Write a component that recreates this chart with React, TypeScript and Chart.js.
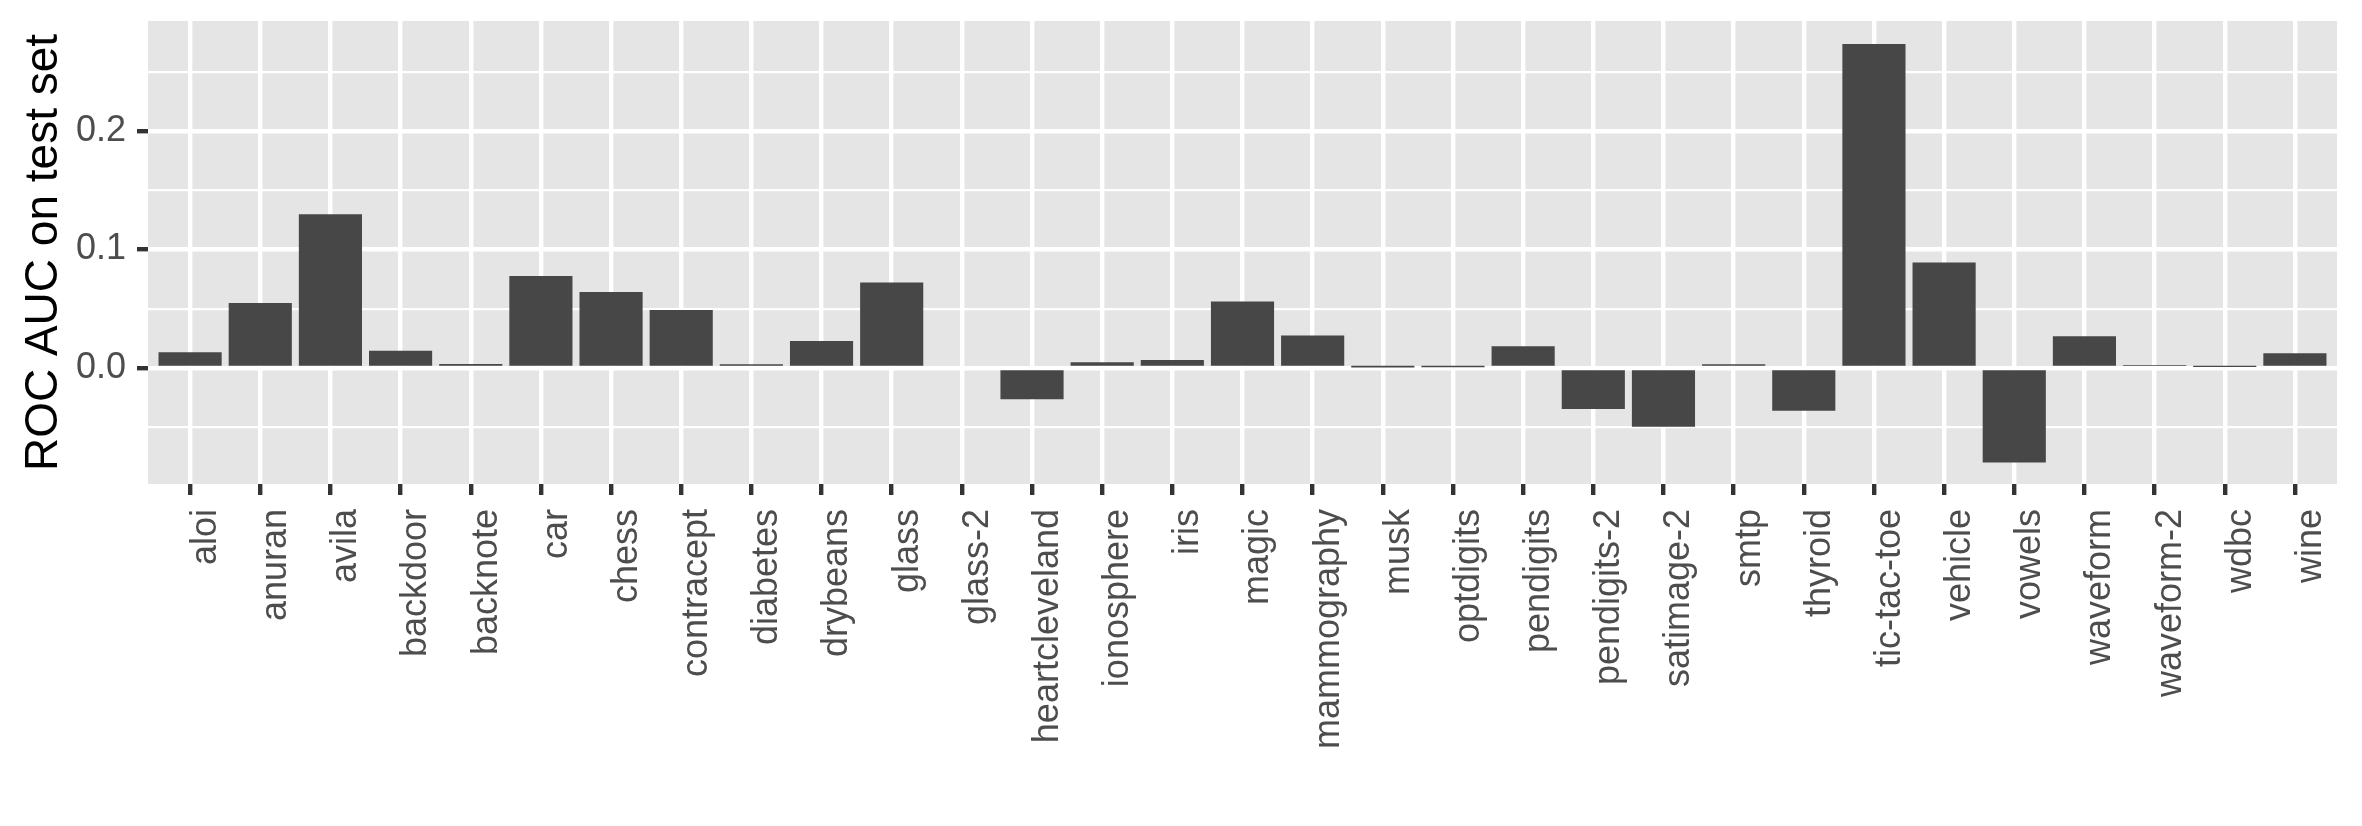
import React, { useEffect, useRef } from 'react';
import { Chart, registerables } from 'chart.js';

Chart.register(...registerables);

const categories = [
  'aloi', 'anuran', 'avila', 'backdoor', 'backnote', 'car', 'chess', 'contracept',
  'diabetes', 'drybeans', 'glass', 'glass-2', 'heartcleveland', 'ionosphere', 'iris',
  'magic', 'mammography', 'musk', 'optdigits', 'pendigits', 'pendigits-2', 'satimage-2',
  'smtp', 'thyroid', 'tic-tac-toe', 'vehicle', 'vowels', 'waveform', 'waveform-2', 'wdbc', 'wine',
];

const rocAucDiff = [
  0.0132, 0.0549, 0.1297, 0.0146, 0.0034, 0.0776, 0.0641, 0.049,
  0.0031, 0.0228, 0.0722, 0.0, -0.0264, 0.0048, 0.0067,
  0.0562, 0.0275, 0.0003, 0.0006, 0.0184, -0.0346, -0.0497,
  0.0031, -0.0362, 0.2736, 0.089, -0.0798, 0.0267, 0.0024, 0.0008, 0.0124,
];

const yTickValues = [-0.05, 0, 0.05, 0.1, 0.15, 0.2, 0.25];
const yMajorTicks = [0, 0.1, 0.2];
const yMin = -0.098;
const yMax = 0.293;

const FONT = 'Liberation Sans, Arial, Helvetica, sans-serif';

export default function App() {
  const ref = useRef<HTMLCanvasElement>(null);

  useEffect(() => {
    document.body.style.margin = '0';
    const canvas = ref.current;
    if (!canvas) return;

    const panelBg = {
      id: 'panelBg',
      beforeDraw(chart: any) {
        const { ctx, chartArea: a } = chart;
        ctx.save();
        ctx.fillStyle = '#E5E5E5';
        ctx.fillRect(a.left, a.top, a.right - a.left, a.bottom - a.top);
        ctx.restore();
      },
    };

    const chart = new Chart(canvas, {
      type: 'bar',
      data: {
        datasets: [
          {
            data: rocAucDiff.map((v, i) => ({ x: i, y: v })),
            backgroundColor: '#474747',
            borderWidth: 0,
            barPercentage: 0.9,
            categoryPercentage: 1,
          },
        ],
      },
      options: {
        animation: false,
        responsive: false,
        devicePixelRatio: 1,
        layout: { padding: { top: 21, right: 25, left: 0, bottom: 0 } },
        plugins: {
          legend: { display: false },
          tooltip: { enabled: false },
        },
        scales: {
          x: {
            type: 'linear',
            min: -0.6,
            max: categories.length - 0.4,
            offset: false,
            afterBuildTicks: (s: any) => {
              s.ticks = categories.map((_, i) => ({ value: i }));
            },
            afterFit: (s: any) => {
              s.height = 342;
              s.paddingLeft = 0;
              s.paddingRight = 0;
            },
            border: { display: false },
            grid: {
              offset: false,
              color: '#FFFFFF',
              lineWidth: 4.4,
              tickColor: '#333333',
              tickWidth: 4.4,
              tickLength: 11,
              drawTicks: true,
            },
            ticks: {
              autoSkip: false,
              maxRotation: 90,
              minRotation: 90,
              padding: 14,
              labelOffset: 16,
              color: '#4D4D4D',
              font: { family: FONT, size: 36 },
              callback: (v: any) => categories[v as number] ?? '',
            },
          },
          y: {
            type: 'linear',
            min: yMin,
            max: yMax,
            afterBuildTicks: (s: any) => {
              s.ticks = yTickValues.map((v) => ({ value: v }));
            },
            afterFit: (s: any) => {
              s.width = 148;
              s.paddingTop = 0;
              s.paddingBottom = 0;
            },
            border: { display: false },
            grid: {
              color: '#FFFFFF',
              lineWidth: (c: any) => (yMajorTicks.includes(c.tick?.value) ? 4.4 : 2.2),
              tickColor: (c: any) => (yMajorTicks.includes(c.tick?.value) ? '#333333' : 'rgba(0,0,0,0)'),
              tickWidth: 4.4,
              tickLength: 11,
              drawTicks: true,
            },
            ticks: {
              padding: 11,
              color: '#4D4D4D',
              font: { family: FONT, size: 36 },
              callback: (v: any) => (yMajorTicks.includes(v) ? Number(v).toFixed(1) : ''),
            },
            title: {
              display: true,
              text: 'ROC AUC on test set',
              color: '#000000',
              font: { family: FONT, size: 46 },
              padding: { top: 17, bottom: 0 },
            },
          },
        },
      },
      plugins: [panelBg],
    } as any);

    return () => chart.destroy();
  }, []);

  return (
    <div style={{ width: 2362, height: 826 }}>
      <canvas ref={ref} width={2362} height={826} style={{ display: 'block' }} />
    </div>
  );
}
